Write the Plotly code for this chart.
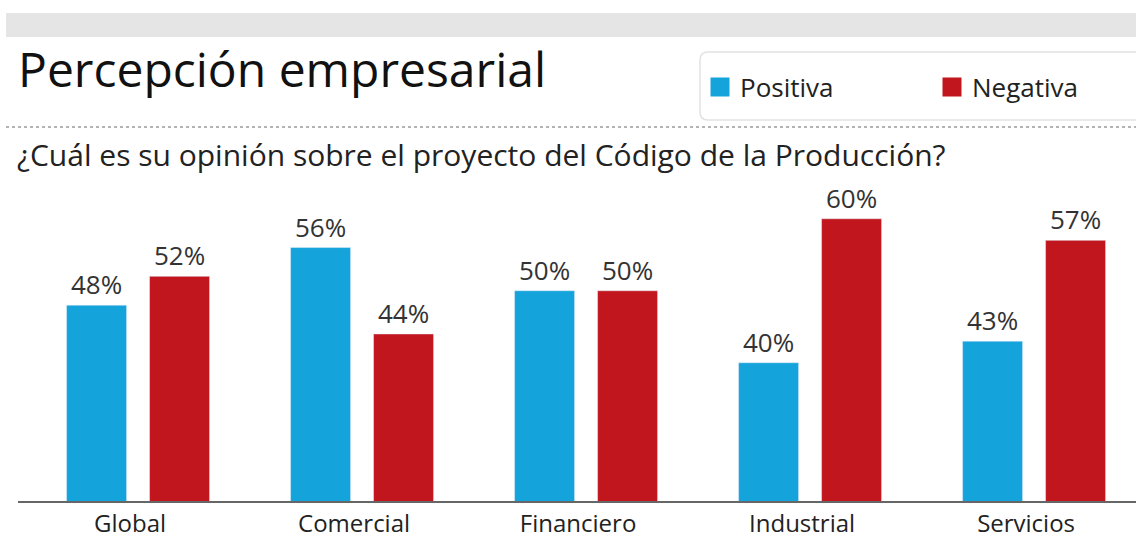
import plotly.graph_objects as go

categories = ["Global", "Comercial", "Financiero", "Industrial", "Servicios"]
positiva = [48, 56, 50, 40, 43]
negativa = [52, 44, 50, 60, 57]
series_names = ["Positiva", "Negativa"]
title_text = "Percepción empresarial"
subtitle_text = "¿Cuál es su opinión sobre el proyecto del Código de la Producción?"

BLUE = "#15a3db"
RED = "#c1161d"
FONT = "Open Sans"

W, H = 1136, 540
L, R, T, B = 18, 0, 195, 39
PW, PH = W - L - R, H - T - B


def px(x):
    return (x - L) / PW


def py(y):
    return (H - B - y) / PH


fig = go.Figure()
for name, vals, col in zip(series_names, [positiva, negativa], [BLUE, RED]):
    fig.add_trace(go.Bar(
        x=categories, y=vals, name=name, marker_color=col, showlegend=False,
        texttemplate="%{y}%", textposition="outside", cliponaxis=False,
        textfont=dict(size=26, color="#333333", family=FONT),
    ))
# legend-only entries with larger square swatches
for name, col in zip(series_names, [BLUE, RED]):
    fig.add_trace(go.Scatter(
        x=[None], y=[None], mode="markers", name=name,
        marker=dict(symbol="square", size=16, color=col, line=dict(color=col, width=3)),
    ))

# rounded legend box
x0, x1, y0, y1, r = 700, 1150, 52, 120, 8
rx, ry = r / PW, r / PH
X0, X1, Y0, Y1 = px(x0), px(x1), py(y0), py(y1)
box_path = (
    f"M {X0 + rx},{Y0} L {X1 - rx},{Y0} Q {X1},{Y0} {X1},{Y0 - ry} "
    f"L {X1},{Y1 + ry} Q {X1},{Y1} {X1 - rx},{Y1} "
    f"L {X0 + rx},{Y1} Q {X0},{Y1} {X0},{Y1 + ry} "
    f"L {X0},{Y0 - ry} Q {X0},{Y0} {X0 + rx},{Y0} Z"
)

shapes = [
    dict(type="rect", xref="paper", yref="paper", x0=px(6), x1=px(1136), y0=py(37), y1=py(13),
         fillcolor="#e5e5e5", line=dict(width=0), layer="below"),
    dict(type="line", xref="paper", yref="paper", x0=px(6), x1=px(1136), y0=py(127), y1=py(127),
         line=dict(color="#9a9a9a", width=1.5, dash="dot")),
    dict(type="path", xref="paper", yref="paper", path=box_path,
         line=dict(color="#e2e2e2", width=1.5), fillcolor="rgba(0,0,0,0)"),
]

annotations = [
    dict(text=title_text, xref="paper", yref="paper", x=px(16), y=py(69), xanchor="left",
         yanchor="middle", showarrow=False, font=dict(size=48, color="#111111", family=FONT)),
    dict(text=subtitle_text, xref="paper", yref="paper", x=px(15), y=py(154), xanchor="left",
         yanchor="middle", showarrow=False, font=dict(size=30, color="#222222", family=FONT)),
]

fig.update_layout(
    width=W, height=H,
    margin=dict(l=L, r=R, t=T, b=B, autoexpand=False),
    paper_bgcolor="white", plot_bgcolor="white",
    barmode="group", bargap=0.259, bargroupgap=0.277,
    font=dict(family=FONT, color="#222222"),
    showlegend=True,
    legend=dict(orientation="h", x=px(700), y=py(87), xanchor="left", yanchor="middle",
                font=dict(size=26, color="#222222", family=FONT), itemsizing="trace",
                entrywidth=187, entrywidthmode="pixels", bgcolor="rgba(0,0,0,0)"),
    xaxis=dict(range=[-0.536, 4.455], showline=True, linecolor="#666666", linewidth=1.5,
               ticks="", ticklabelshift=-8,
               tickfont=dict(size=24, color="#222222", family=FONT), showgrid=False),
    yaxis=dict(range=[20.8, 63.3], visible=False, showgrid=False, zeroline=False),
    shapes=shapes, annotations=annotations,
)

fig.write_html("out.html", config={"displayModeBar": False},
               post_script="document.body.style.margin='0';")
